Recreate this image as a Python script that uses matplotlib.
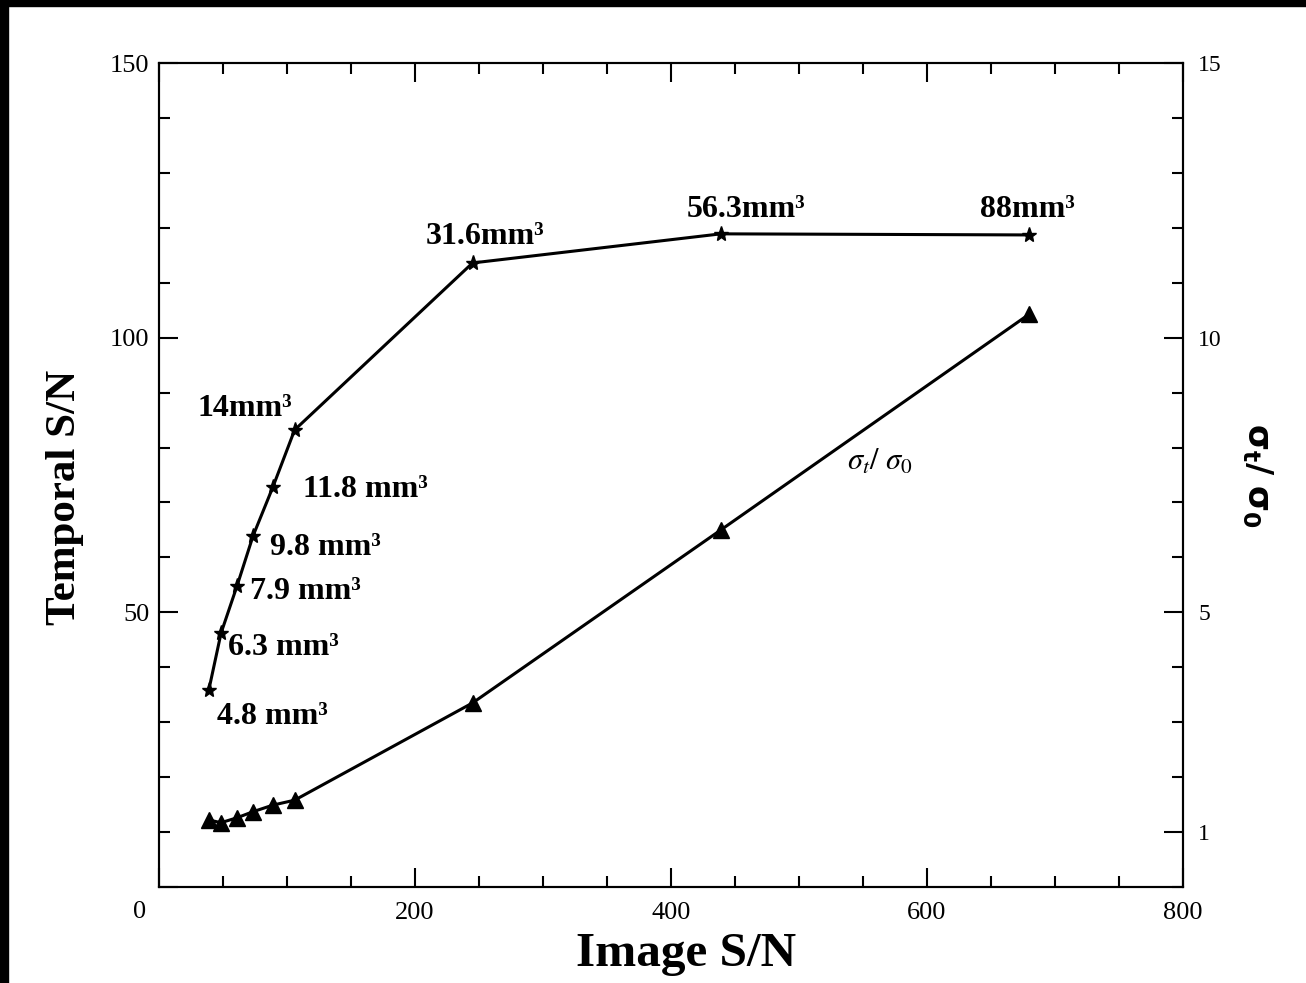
import matplotlib
matplotlib.use("Agg")
import matplotlib.pyplot as plt
from matplotlib.patches import Rectangle
from matplotlib.ticker import MultipleLocator

# Image S/N for each voxel volume
image_sn = [39, 48.5, 61, 73.5, 89, 106, 245, 439, 680]
# Temporal S/N (left axis)
temporal_sn = [35.9, 46.2, 54.8, 63.9, 72.8, 83.2, 113.6, 118.9, 118.7]
# sigma_t / sigma_0 (right axis)
sigma_ratio = [1.22, 1.17, 1.26, 1.37, 1.49, 1.58, 3.35, 6.5, 10.43]
# volume labels and their offsets (pixels) from the points
vol_labels = ["4.8 mm³", "6.3 mm³", "7.9 mm³", "9.8 mm³", "11.8 mm³",
              "14mm³", "31.6mm³", "56.3mm³", "88mm³"]
label_offsets = [(8, -27, "left"), (7, -14, "left"), (13, -6, "left"),
                 (17, -12, "left"), (30, -2, "left"), (-50, 21, "center"),
                 (12, 26, "center"), (25, 24, "center"), (-2, 25, "center")]

serif = "Liberation Serif"

fig = plt.figure(figsize=(13.06, 9.83), dpi=100)
ax = fig.add_axes([0.1217, 0.0977, 0.7841, 0.8382])
ax2 = ax.twinx()

ax.plot(image_sn, temporal_sn, color="black", lw=2.2, marker="*",
        markersize=11, zorder=3)
ax2.plot(image_sn, sigma_ratio, color="black", lw=2.2, marker="^",
         markersize=11, zorder=3)

for x, y, lab, (dx, dy, ha) in zip(image_sn, temporal_sn, vol_labels, label_offsets):
    ax.annotate(lab, (x, y), xytext=(dx, dy), textcoords="offset pixels",
                ha=ha, va="center", fontsize=23, fontweight="bold",
                family=serif)

ax.text(563, 77.4, r"$\sigma_t/\ \sigma_0$", fontsize=22, ha="center",
        va="center", color="black", math_fontfamily="stix")

ax.set_xlim(0, 800)
ax.set_ylim(0, 150)
ax2.set_ylim(0, 15)

ax.set_xticks([0, 200, 400, 600, 800])
ax.set_xticklabels(["", "200", "400", "600", "800"], family=serif, fontsize=19)
ax.text(-0.019, -0.03, "0", transform=ax.transAxes, ha="center", va="center",
        family=serif, fontsize=19)
ax.xaxis.set_minor_locator(MultipleLocator(50))
ax.set_yticks([0, 50, 100, 150])
ax.set_yticklabels(["", "50", "100", "150"], family=serif, fontsize=19)
ax.yaxis.set_minor_locator(MultipleLocator(10))
ax2.set_yticks([1, 5, 10, 15])
ax2.set_yticklabels(["1", "5", "10", "15"], family=serif, fontsize=17)
ax2.yaxis.set_minor_locator(MultipleLocator(1))

ax.tick_params(which="both", direction="in", top=True, width=1.5, colors="black")
ax.tick_params(which="major", length=14)
ax.tick_params(which="minor", length=8)
ax.tick_params(axis="x", pad=11)
ax.tick_params(axis="y", pad=7)
ax2.tick_params(which="both", direction="in", width=1.5)
ax2.tick_params(which="major", length=14, pad=11)
ax2.tick_params(which="minor", length=8)

for a in (ax, ax2):
    for s in a.spines.values():
        s.set_linewidth(1.5)

ax.set_xlabel("Image S/N", family=serif, fontsize=35.5, fontweight="bold")
ax.xaxis.set_label_coords(0.515, -0.055)
ax.set_ylabel("Temporal S/N", family=serif, fontsize=31, fontweight="bold")
ax.yaxis.set_label_coords(-0.073, 0.473)
ax2.set_ylabel(r"$\mathbf{\sigma_t/\ \sigma_0}$", fontsize=24, rotation=270,
               labelpad=38)

# black frame along the top and left edges
fig.patches.append(Rectangle((0, 0.994), 1, 0.006, transform=fig.transFigure,
                             color="black", zorder=10))
fig.patches.append(Rectangle((0, 0), 0.006, 1, transform=fig.transFigure,
                             color="black", zorder=10))

fig.savefig("out.png", dpi=100)
